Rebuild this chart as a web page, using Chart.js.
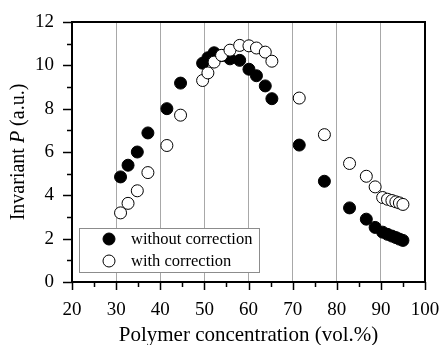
<!DOCTYPE html>
<html>
<head>
<meta charset="utf-8">
<script src="https://cdn.jsdelivr.net/npm/chart.js@4.4.1/dist/chart.umd.min.js"></script>
<style>
html,body{margin:0;padding:0;background:#fff;}
#wrap{width:441px;height:345px;position:relative;}
</style>
</head>
<body>
<div id="wrap"><canvas id="c" width="441" height="345"></canvas></div>
<script>
const concentration = [31.0, 32.7, 34.8, 37.2, 41.5, 44.6, 49.6, 50.8, 52.2, 53.9, 55.8, 58.0, 60.1, 61.8, 63.8, 65.3, 71.5, 77.2, 82.9, 86.7, 88.7, 90.4, 91.5, 92.5, 93.4, 94.2, 95.0];
const withoutCorrection = [4.85, 5.39, 6.0, 6.88, 8.0, 9.18, 10.1, 10.35, 10.58, 10.45, 10.3, 10.23, 9.82, 9.52, 9.05, 8.46, 6.32, 4.65, 3.42, 2.9, 2.52, 2.3, 2.2, 2.12, 2.05, 1.98, 1.92];
const withCorrection = [3.19, 3.63, 4.21, 5.05, 6.3, 7.7, 9.3, 9.65, 10.15, 10.46, 10.7, 10.92, 10.9, 10.8, 10.61, 10.19, 8.49, 6.8, 5.47, 4.88, 4.39, 3.9, 3.82, 3.76, 3.7, 3.65, 3.58];
const seriesLabels = ['without correction', 'with correction'];
const xTickValues = [20, 30, 40, 50, 60, 70, 80, 90, 100];
const yTickValues = [0, 2, 4, 6, 8, 10, 12];
const xTitle = 'Polymer concentration (vol.%)';
const yTitleParts = ['Invariant ', 'P', ' (a.u.)'];

const FONT = "'Liberation Serif', 'Times New Roman', serif";
const toPts = (xs, ys) => xs.map((x, i) => ({x: x, y: ys[i]}));

const framePlugin = {
  id: 'frame',
  afterDatasetsDraw(chart) {
    const ctx = chart.ctx, a = chart.chartArea;
    const xs = chart.scales.x, ys = chart.scales.y;
    ctx.save();
    ctx.strokeStyle = '#000';
    ctx.lineWidth = 2;
    ctx.strokeRect(a.left, a.top, a.right - a.left, a.bottom - a.top);
    ctx.lineWidth = 1.5;
    for (let v = 20; v <= 100; v += 5) {
      const px = Math.round(xs.getPixelForValue(v)) + 0.5;
      const len = (v % 10 === 0) ? 8 : 5;
      ctx.beginPath(); ctx.moveTo(px, a.bottom); ctx.lineTo(px, a.bottom + len); ctx.stroke();
    }
    for (let v = 0; v <= 12; v += 1) {
      const py = Math.round(ys.getPixelForValue(v)) + 0.5;
      const len = (v % 2 === 0) ? 9 : 5;
      ctx.beginPath(); ctx.moveTo(a.left, py); ctx.lineTo(a.left - len, py); ctx.stroke();
    }
    ctx.fillStyle = '#000';
    ctx.textBaseline = 'middle';
    ctx.textAlign = 'left';
    const fonts = ['20px ' + FONT, 'italic 20px ' + FONT, '20px ' + FONT];
    let total = 0;
    const widths = yTitleParts.map((t, i) => { ctx.font = fonts[i]; const w = ctx.measureText(t).width; total += w; return w; });
    ctx.translate(19, (a.top + a.bottom) / 2);
    ctx.rotate(-Math.PI / 2);
    let cx = -total / 2;
    yTitleParts.forEach((t, i) => { ctx.font = fonts[i]; ctx.fillText(t, cx, 0); cx += widths[i]; });
    ctx.restore();

    ctx.save();
    ctx.fillStyle = '#fff';
    ctx.fillRect(79.5, 228.5, 180, 44);
    ctx.strokeStyle = '#8c8c8c';
    ctx.lineWidth = 1;
    ctx.strokeRect(79.5, 228.5, 180, 44);
    const rows = [239, 261];
    chart.data.datasets.slice().sort((p, q) => seriesLabels.indexOf(p.label) - seriesLabels.indexOf(q.label)).forEach((ds, i) => {
      ctx.beginPath();
      ctx.arc(109, rows[i], 6, 0, Math.PI * 2);
      ctx.fillStyle = ds.backgroundColor;
      ctx.fill();
      ctx.lineWidth = 1;
      ctx.strokeStyle = ds.borderColor;
      ctx.stroke();
      ctx.fillStyle = '#000';
      ctx.font = '16.5px ' + FONT;
      ctx.textBaseline = 'middle';
      ctx.textAlign = 'left';
      ctx.fillText(ds.label, 131, rows[i] + 1);
    });
    ctx.restore();
  }
};

new Chart(document.getElementById('c'), {
  type: 'scatter',
  data: {
    datasets: [
      {
        label: seriesLabels[1],
        data: toPts(concentration, withCorrection),
        backgroundColor: '#ffffff',
        borderColor: '#000000',
        borderWidth: 1,
        pointRadius: 6,
        order: 0
      },
      {
        label: seriesLabels[0],
        data: toPts(concentration, withoutCorrection),
        backgroundColor: '#000000',
        borderColor: '#000000',
        borderWidth: 1,
        pointRadius: 6,
        order: 1
      }
    ]
  },
  options: {
    responsive: false,
    animation: false,
    devicePixelRatio: 1,
    layout: {padding: {top: 22, right: 16, left: 0, bottom: 0}},
    plugins: {legend: {display: false}, tooltip: {enabled: false}},
    scales: {
      x: {
        type: 'linear',
        min: 20, max: 100,
        afterBuildTicks: (s) => { s.ticks = xTickValues.map(v => ({value: v})); },
        afterFit: (s) => { s.height = 63; s.paddingLeft = 0; s.paddingRight = 0; },
        border: {display: false},
        grid: {
          drawTicks: false,
          color: (c) => (c.tick && c.tick.value > 20 && c.tick.value < 100) ? '#a8a8a8' : 'rgba(0,0,0,0)',
          lineWidth: 1
        },
        ticks: {color: '#000', font: {family: FONT, size: 19}, padding: 17, maxRotation: 0},
        title: {display: true, text: xTitle, color: '#000', font: {family: FONT, size: 21}, padding: {top: 0, bottom: -3}}
      },
      y: {
        type: 'linear',
        min: 0, max: 12,
        afterBuildTicks: (s) => { s.ticks = yTickValues.map(v => ({value: v})); },
        afterFit: (s) => { s.width = 72; s.paddingTop = 0; s.paddingBottom = 0; },
        border: {display: false},
        grid: {drawTicks: false, drawOnChartArea: false},
        ticks: {color: '#000', font: {family: FONT, size: 19}, padding: 18}
      }
    }
  },
  plugins: [framePlugin]
});
</script>
</body>
</html>
